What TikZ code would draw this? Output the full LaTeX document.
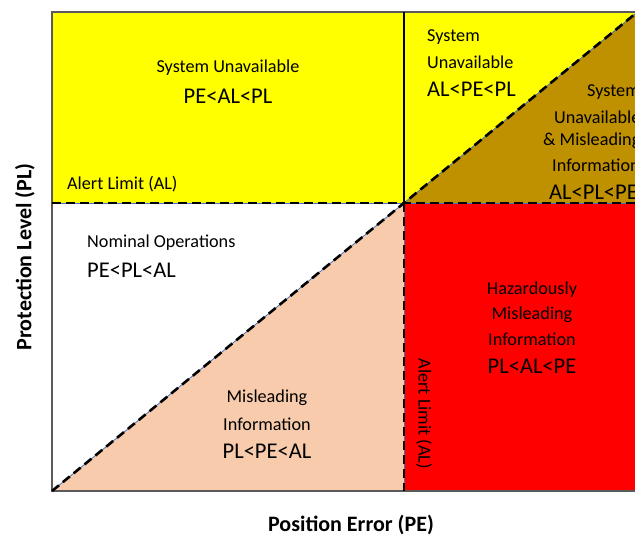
\documentclass[tikz,border=0pt]{standalone}
\usepackage{fontspec}
\setmainfont{Carlito}
\begin{document}
\begin{tikzpicture}[x=1pt,y=-1pt,
  lbl/.style={inner sep=0pt, font=\fontsize{18.2}{25}\selectfont},
  big/.style={inner sep=0pt, font=\fontsize{22.5}{26}\selectfont},
  axis/.style={inner sep=0pt, font=\fontsize{22}{26}\selectfont\bfseries},
  bluel/.style={draw={rgb,255:red,68;green,114;blue,196}, line width=0.8pt},
  dashl/.style={draw=black, line width=2.6pt, dash pattern=on 9pt off 5pt},
  frame/.style={draw={rgb,255:red,90;green,90;blue,90}, line width=1.2pt}]
\definecolor{cyel}{RGB}{255,255,0}
\definecolor{cbrown}{RGB}{191,144,0}
\definecolor{cpeach}{RGB}{248,203,173}
\definecolor{cred}{RGB}{255,0,0}
\useasboundingbox (0,0) rectangle (635,535);
\coordinate (BL) at (52,491);
\coordinate (C) at (404,203);
\coordinate (TL) at (52,12);
\coordinate (TR) at (640,12);
\coordinate (BR) at (640,491);
\coordinate (DE) at (640,9.9);
\coordinate (LM) at (52,203);
\coordinate (RM) at (640,203);
\coordinate (TM) at (404,12);
\coordinate (BM) at (404,491);
\begin{scope}
\clip (0,0) rectangle (635,535);
% fills
\fill[cyel] (TL) rectangle (RM);
\fill[cbrown] (C) -- (DE) -- (RM) -- cycle;
\fill[cpeach] (BL) -- (C) -- (BM) -- cycle;
\fill[cred] (C) rectangle (BR);
% frame
\draw[frame] (TR) -- (TL) -- (BL) -- (BR);
% blue thin lines
\draw[bluel] (BL) -- (DE);
\draw[bluel] (LM) -- (RM);
\draw[bluel] (C) -- (BM);
% solid upper vertical
\draw[black, line width=2pt] (TM) -- (C);
% dashed lines
\draw[dashl] (BL) -- (DE);
\draw[dashl] (LM) -- (RM);
\draw[dashl] (C) -- (BM);
% texts
\node[lbl] (su1) at (228,68) {System Unavailable};
\node[big] (su1r) at (228,96) {PE<AL<PL};
\node[lbl, anchor=west] (al1) at (67,184) {Alert Limit (AL)};
\node[lbl, anchor=west] (su2a) at (427,37) {System};
\node[lbl, anchor=west] (su2b) at (427,62) {Unavailable};
\node[big, anchor=west] (su2r) at (427,89) {AL<PE<PL};
\node[lbl, anchor=west] (sm1) at (587,92) {System};
\node[lbl, anchor=west] (sm2) at (554,117) {Unavailable};
\node[lbl, anchor=west] (sm3) at (543,141) {\& Misleading};
\node[lbl, anchor=west] (sm4) at (552,165) {Information};
\node[big, anchor=west] (smr) at (549,192) {AL<PL<PE};
\node[lbl, anchor=west] (no1) at (87,243) {Nominal Operations};
\node[big, anchor=west] (nor) at (87,270) {PE<PL<AL};
\node[lbl] (mi1) at (267,398) {Misleading};
\node[lbl] (mi2) at (267,424) {Information};
\node[big] (mir) at (267,451) {PL<PE<AL};
\node[lbl] (hm1) at (532,290) {Hazardously};
\node[lbl] (hm2) at (532,315) {Misleading};
\node[lbl] (hm3) at (532,339) {Information};
\node[big] (hmr) at (532,366) {PL<AL<PE};
\node[lbl, rotate=-90] (al2) at (424,414) {Alert Limit (AL)};
\end{scope}
\node[axis] (xl) at (351,525) {Position Error (PE)};
\node[axis, rotate=90] (yl) at (25,257) {Protection Level (PL)};
\end{tikzpicture}
\end{document}
